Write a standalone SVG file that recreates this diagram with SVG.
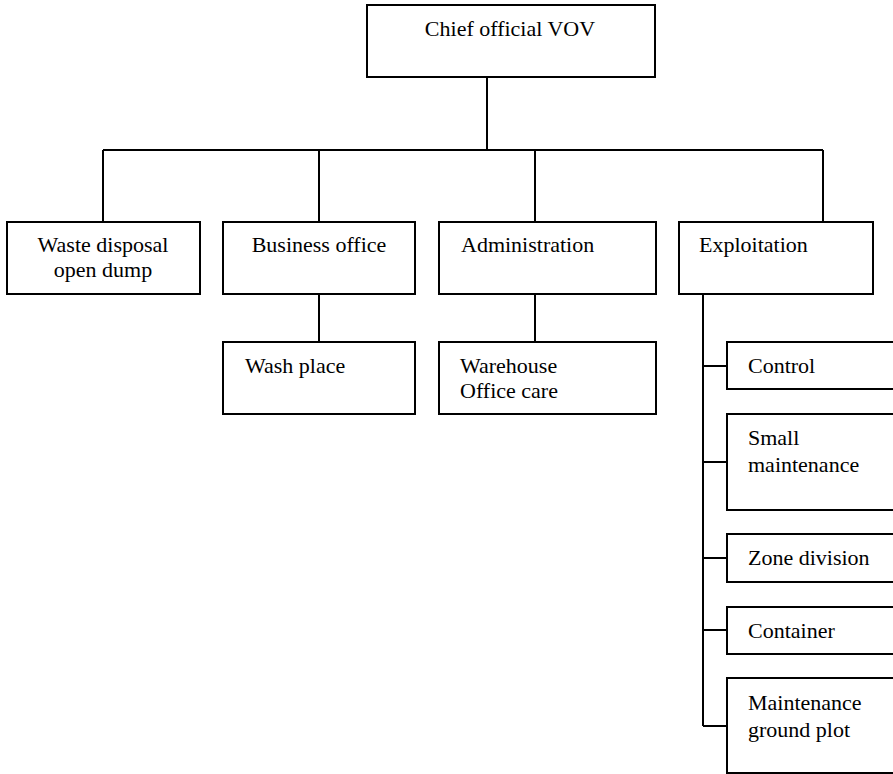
<svg xmlns="http://www.w3.org/2000/svg" width="893" height="774" viewBox="0 0 893 774">
<style>
rect{fill:#fff;stroke:#000;stroke-width:2}
.c{fill:none;stroke:#000;stroke-width:2}
text{font-family:"Liberation Serif","Times New Roman",serif;font-size:22px;fill:#000}
.m{text-anchor:middle}
</style>
<rect x="0" y="0" width="893" height="774" style="stroke:none"/>
<g id="connectors">
<path class="c" d="M487 77V150M103 150H823M103 150V222M319 150V222M535 150V222M823 150V222"/>
<path class="c" d="M319 294V342M535 294V342"/>
<path class="c" d="M703 294V726M703 366H727M703 462H727M703 558H727M703 630H727M703 726H727"/>
</g>
<g id="chief"><rect x="367" y="5" width="288" height="72"/><text class="m" x="510" y="36">Chief official VOV</text></g>
<g id="waste"><rect x="7" y="222" width="193" height="72"/><text class="m" x="103" y="252">Waste disposal</text><text class="m" x="103" y="277">open dump</text></g>
<g id="business"><rect x="223" y="222" width="192" height="72"/><text class="m" x="319" y="252">Business office</text></g>
<g id="administration"><rect x="439" y="222" width="217" height="72"/><text x="461" y="252">Administration</text></g>
<g id="exploitation"><rect x="679" y="222" width="194" height="72"/><text x="699" y="252">Exploitation</text></g>
<g id="wash"><rect x="223" y="342" width="192" height="72"/><text x="245" y="373">Wash place</text></g>
<g id="warehouse"><rect x="439" y="342" width="217" height="72"/><text x="460" y="373">Warehouse</text><text x="460" y="398">Office care</text></g>
<g id="control"><rect x="727" y="342" width="180" height="47"/><text x="748" y="373">Control</text></g>
<g id="small"><rect x="727" y="414" width="180" height="96"/><text x="748" y="445">Small</text><text x="748" y="472">maintenance</text></g>
<g id="zone"><rect x="727" y="534" width="180" height="48"/><text x="748" y="565">Zone division</text></g>
<g id="container"><rect x="727" y="607" width="180" height="47"/><text x="748" y="638">Container</text></g>
<g id="groundplot"><rect x="727" y="678" width="180" height="95"/><text x="748" y="710">Maintenance</text><text x="748" y="737">ground plot</text></g>
</svg>
